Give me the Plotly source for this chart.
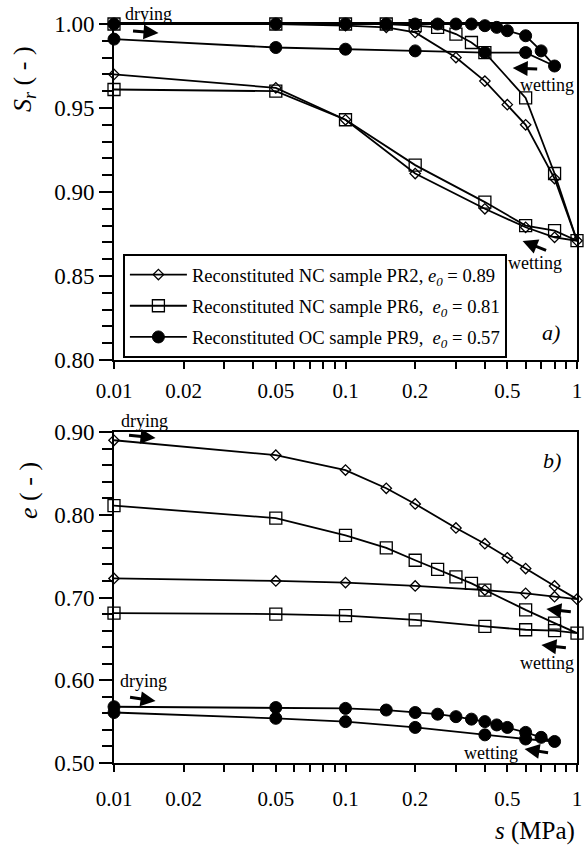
import plotly.graph_objects as go

# Suction s (MPa) along each drying path followed by the wetting path
pr2_s = [0.01, 0.05, 0.1, 0.15, 0.2, 0.3, 0.4, 0.5, 0.6, 0.8, 1.0,
         0.8, 0.6, 0.4, 0.2, 0.1, 0.05, 0.01]
pr2_sr = [1.000, 1.000, 0.999, 0.998, 0.995, 0.980, 0.966, 0.952, 0.940, 0.908, 0.871,
          0.873, 0.879, 0.890, 0.911, 0.943, 0.962, 0.970]
pr2_e = [0.890, 0.872, 0.854, 0.832, 0.813, 0.784, 0.765, 0.748, 0.735, 0.714, 0.698,
         0.701, 0.705, 0.709, 0.714, 0.718, 0.720, 0.723]

pr6_s = [0.01, 0.05, 0.1, 0.15, 0.2, 0.25, 0.3, 0.35, 0.4, 0.6, 0.8, 1.0,
         0.8, 0.6, 0.4, 0.2, 0.1, 0.05, 0.01]
pr6_sr = [1.000, 1.000, 1.000, 1.000, 0.999, 0.998, 0.994, 0.989, 0.983, 0.956, 0.911, 0.871,
          0.877, 0.880, 0.894, 0.916, 0.943, 0.960, 0.961]
pr6_e = [0.811, 0.796, 0.775, 0.760, 0.745, 0.734, 0.725, 0.717, 0.709, 0.685, 0.669, 0.657,
         0.660, 0.661, 0.665, 0.673, 0.678, 0.680, 0.681]

pr9_s = [0.01, 0.05, 0.1, 0.15, 0.2, 0.25, 0.3, 0.35, 0.4, 0.45, 0.5, 0.6, 0.7, 0.8,
         0.6, 0.4, 0.2, 0.1, 0.05, 0.01]
pr9_sr = [1.000, 1.000, 1.000, 1.000, 1.000, 1.000, 1.000, 1.000, 0.999, 0.998, 0.996, 0.993, 0.984, 0.975,
          0.983, 0.983, 0.984, 0.985, 0.986, 0.991]
pr9_e = [0.568, 0.567, 0.566, 0.564, 0.561, 0.559, 0.556, 0.553, 0.550, 0.546, 0.543, 0.537, 0.531, 0.526,
         0.529, 0.534, 0.543, 0.550, 0.554, 0.561]

sample_names = [
    "Reconstituted NC sample PR2, <i>e<sub>0</sub></i> = 0.89",
    "Reconstituted NC sample PR6,\u00a0 <i>e<sub>0</sub></i> = 0.81",
    "Reconstituted OC sample PR9,\u00a0 <i>e<sub>0</sub></i> = 0.57",
]

x_tick_vals = [0.01, 0.02, 0.05, 0.1, 0.2, 0.5, 1]
x_tick_text = ["0.01", "0.02", "0.05", "0.1", "0.2", "0.5", "1"]
x_minor_vals = [0.03, 0.04, 0.06, 0.07, 0.08, 0.09, 0.3, 0.4, 0.6, 0.7, 0.8, 0.9]
x_decade_vals = [0.01, 0.1, 1]

FONT = "Liberation Serif, Times New Roman, serif"
W, H = 587, 846
ML, MR, MT, MB = 114, 5, 24, 83
PW, PH = W - ML - MR, H - MT - MB

marker_styles = [
    dict(symbol="diamond-open", size=8, color="black", line=dict(width=1.3, color="black")),
    dict(symbol="square-open", size=12, color="black", line=dict(width=1.3, color="black")),
    dict(symbol="circle", size=12, color="black", line=dict(width=1, color="black")),
]

series = [(pr2_s, pr2_sr, pr2_e), (pr6_s, pr6_sr, pr6_e), (pr9_s, pr9_sr, pr9_e)]

fig = go.Figure()
for i, (s, sr, e) in enumerate(series):
    common = dict(mode="lines+markers", line=dict(color="black", width=1.8),
                  marker=marker_styles[i], legendgroup=f"g{i}", cliponaxis=False)
    fig.add_trace(go.Scatter(x=s, y=sr, name=sample_names[i], xaxis="x", yaxis="y",
                             showlegend=True, **common))
    fig.add_trace(go.Scatter(x=s, y=e, name=sample_names[i], xaxis="x2", yaxis="y2",
                             showlegend=False, **common))


def px2paper(px, py):
    return (px - ML) / PW, (H - MB - py) / PH


annotations = []


def label(text, px, py, size=18, **kw):
    x, y = px2paper(px, py)
    annotations.append(dict(text=text, x=x, y=y, xref="paper", yref="paper",
                            showarrow=False, font=dict(family=FONT, size=size, color="black"),
                            xanchor=kw.pop("xanchor", "center"), yanchor=kw.pop("yanchor", "middle"), **kw))


def arrow(tail, head):
    x, y = px2paper(*head)
    annotations.append(dict(text="", x=x, y=y, xref="paper", yref="paper", showarrow=True,
                            ax=tail[0] - head[0], ay=tail[1] - head[1], axref="pixel", ayref="pixel",
                            arrowhead=2, arrowsize=1, arrowwidth=3, arrowcolor="black",
                            standoff=0, startstandoff=0))


# path labels and direction arrows
label("drying", 149, 14)
arrow((132, 31), (159, 33))
label("wetting", 552, 85)
arrow((543, 69), (517, 68))
label("wetting", 540, 263)
arrow((552, 251), (527, 241))
label("drying", 145, 421)
arrow((128, 435), (156, 438))
arrow((577, 612), (551, 609))
arrow((572, 648), (546, 645))
label("wetting", 552, 663)
label("drying", 144, 681)
arrow((129, 697), (156, 701))
label("wetting", 495, 753)
arrow((554, 753), (529, 749))

# panel tags
label("<i>a)</i>", 556, 333, size=22)
label("<i>b)</i>", 557, 460, size=22)

# axis titles
label("<i>S<sub>r</sub></i> ( - )", 23, 79, size=26, textangle=-90)
label("<i>e</i> ( - )", 27, 490, size=26, textangle=-90)
label("<i>s</i> (MPa)", 582, 831, size=25, xanchor="right")

top_dom = [px2paper(0, 360)[1], 1.0]
bot_dom = [0.0, px2paper(0, 432)[1]]

xcommon = dict(type="log", range=[-2, 0], showgrid=False, zeroline=False,
               tickvals=x_tick_vals, ticktext=x_tick_text, ticks="outside", ticklen=7,
               tickwidth=2, tickcolor="black", showline=True, linewidth=2, linecolor="black",
               mirror=True, tickfont=dict(family=FONT, size=21, color="black"),
               minor=dict(tickvals=x_minor_vals, ticks="outside", ticklen=7, tickwidth=2,
                          tickcolor="black", showgrid=False))
xdecade = dict(type="log", range=[-2, 0], showgrid=False, zeroline=False,
               tickvals=x_decade_vals, ticks="outside", ticklen=13, tickwidth=2,
               tickcolor="black", showticklabels=False, showline=False, side="bottom")
ycommon = dict(showgrid=False, zeroline=False, ticks="outside", ticklen=13, tickwidth=2,
               tickcolor="black", showline=True, linewidth=2, linecolor="black", mirror=True,
               tickformat=".2f", tickfont=dict(family=FONT, size=23, color="black"))

fig.update_layout(
    width=W, height=H,
    margin=dict(l=ML, r=MR, t=MT, b=MB),
    paper_bgcolor="white", plot_bgcolor="white",
    font=dict(family=FONT, color="black"),
    xaxis=dict(anchor="y", ticklabelstandoff=4, **xcommon),
    xaxis2=dict(anchor="y2", ticklabelstandoff=9, **xcommon),
    xaxis3=dict(overlaying="x", anchor="y", **xdecade),
    xaxis4=dict(overlaying="x2", anchor="y2", **xdecade),
    yaxis=dict(domain=top_dom, anchor="x", range=[0.80, 1.00], dtick=0.05,
               minor=dict(dtick=0.01, ticks="outside", ticklen=10, tickwidth=2, tickcolor="black"),
               **ycommon),
    yaxis2=dict(domain=bot_dom, anchor="x2", range=[0.50, 0.90], dtick=0.1,
                minor=dict(dtick=0.02, ticks="outside", ticklen=10, tickwidth=2, tickcolor="black"),
                **ycommon),
    legend=dict(x=px2paper(123, 0)[0], y=px2paper(0, 254)[1], xanchor="left", yanchor="top",
                bordercolor="black", borderwidth=2, bgcolor="white",
                font=dict(family=FONT, size=18.6, color="black"),
                itemwidth=57, tracegroupgap=4, traceorder="grouped"),
    annotations=annotations,
)

fig.write_html("out.html")
